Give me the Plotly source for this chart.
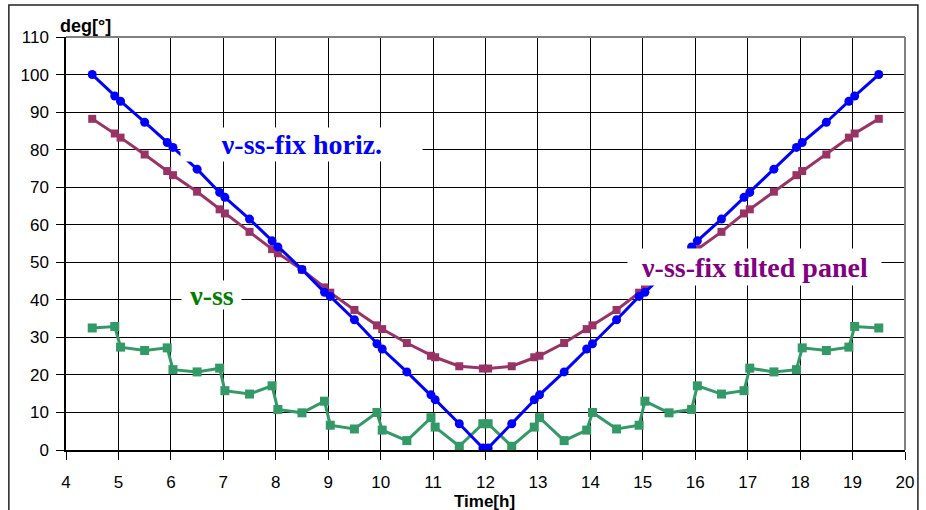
import plotly.graph_objects as go

time_h = [4.5, 4.93, 5.04, 5.5, 5.93, 6.04, 6.5, 6.93, 7.03, 7.5, 7.93, 8.04, 8.5, 8.93, 9.04,
          9.5, 9.93, 10.03, 10.5, 10.96, 11.04, 11.5, 11.95, 12.05, 12.5, 12.93, 13.03, 13.5,
          13.93, 14.04, 14.5, 14.93, 15.04, 15.5, 15.93, 16.04, 16.5, 16.93, 17.04, 17.5,
          17.93, 18.04, 18.5, 18.93, 19.04, 19.5]

fix_horiz = [100, 94.3, 92.9, 87.3, 81.9, 80.6, 74.8, 68.6, 67.3, 61.5, 55.7, 54.1, 48.1, 42.0, 40.9,
             34.7, 28.3, 26.9, 20.8, 14.7, 13.4, 7.0, 0.5, 0.5, 7.0, 13.4, 14.7, 20.8,
             26.9, 28.3, 34.7, 40.9, 42.0, 48.1, 54.1, 55.7, 61.5, 67.3, 68.6, 74.8,
             80.6, 81.9, 87.3, 92.9, 94.3, 100]

fix_tilted = [88.2, 84.3, 83.2, 78.7, 74.3, 73.2, 68.8, 64.1, 63.0, 58.1, 53.5, 52.4, 48.0, 43.3, 41.9,
              37.3, 33.2, 32.2, 28.5, 25.1, 24.7, 22.3, 21.7, 21.7, 22.3, 24.7, 25.1, 28.5,
              32.2, 33.2, 37.3, 41.9, 43.3, 48.0, 52.4, 53.5, 58.1, 63.0, 64.1, 68.8,
              73.2, 74.3, 78.7, 83.2, 84.3, 88.2]

ss = [32.5, 32.9, 27.4, 26.5, 27.2, 21.4, 20.8, 21.8, 15.8, 14.9, 17.1, 10.8, 9.9, 13.0, 6.6,
      5.6, 10.0, 5.3, 2.5, 8.6, 6.1, 1.0, 7.0, 7.0, 1.0, 6.1, 8.6, 2.5,
      5.3, 10.0, 5.6, 6.6, 13.0, 9.9, 10.8, 17.1, 14.9, 15.8, 21.8, 20.8,
      21.4, 27.2, 26.5, 27.4, 32.9, 32.5]

x_ticks = list(range(4, 21))
y_ticks = list(range(0, 111, 10))

fig = go.Figure()
fig.add_trace(go.Scatter(x=time_h, y=ss, mode="lines+markers", name="ν-ss",
                         line=dict(color="#339966", width=3),
                         marker=dict(symbol="square", size=9, color="#339966")))
fig.add_trace(go.Scatter(x=time_h, y=fix_tilted, mode="lines+markers", name="ν-ss-fix tilted panel",
                         line=dict(color="#993366", width=3),
                         marker=dict(symbol="square", size=8, color="#993366")))
fig.add_trace(go.Scatter(x=time_h, y=fix_horiz, mode="lines+markers", name="ν-ss-fix horiz.",
                         line=dict(color="#0000FF", width=3),
                         marker=dict(symbol="circle", size=9, color="#0000FF")))

tick_font = dict(family="Liberation Sans, Arial", size=17, color="black")
fig.update_layout(
    width=926, height=510,
    margin=dict(l=66, r=16, t=37, b=60),
    paper_bgcolor="white", plot_bgcolor="white",
    showlegend=False,
    xaxis=dict(range=[4, 20], tickvals=x_ticks, ticktext=[str(v) for v in x_ticks],
               showgrid=True, gridcolor="black", gridwidth=1,
               ticks="outside", ticklen=8, tickcolor="black", tickwidth=1,
               showline=True, linecolor="black", linewidth=1.5,
               zeroline=False, tickfont=tick_font, ticklabelstandoff=8),
    yaxis=dict(range=[0, 110], tickvals=y_ticks, ticktext=[str(v) for v in y_ticks],
               showgrid=True, gridcolor="black", gridwidth=1,
               ticks="outside", ticklen=8, tickcolor="black", tickwidth=1,
               showline=True, linecolor="black", linewidth=1.5,
               zeroline=False, tickfont=tick_font, ticklabelstandoff=4),
)

# plot-area border (top/right grey) and outer chart border
fig.add_shape(type="line", xref="paper", yref="paper", x0=0, x1=1, y0=1, y1=1,
              line=dict(color="#808080", width=2), layer="above")
fig.add_shape(type="line", xref="paper", yref="paper", x0=1, x1=1, y0=0, y1=1,
              line=dict(color="#808080", width=2), layer="above")
fig.add_shape(type="rect", xref="paper", yref="paper", x0=-0.0681, x1=1.0154, y0=-0.16, y1=1.0775,
              line=dict(color="#222222", width=1.5), layer="above")

label_font = "Liberation Serif, Times New Roman, serif"
fig.add_annotation(xref="paper", yref="paper", x=0.2801, y=0.7397, xanchor="center", yanchor="middle",
                   text="<b>ν-ss-fix horiz.</b>",
                   showarrow=False, font=dict(family=label_font, size=28, color="#0000FF", weight="bold"),
                   bgcolor="white", width=241, height=33, borderpad=0, align="center")
fig.add_annotation(xref="paper", yref="paper", x=0.8204, y=0.4431, xanchor="center", yanchor="middle",
                   text="<b>ν-ss-fix tilted panel</b>",
                   showarrow=False, font=dict(family=label_font, size=28, color="#800080", weight="bold"),
                   bgcolor="white", width=253, height=36, borderpad=0, align="center")
fig.add_annotation(xref="paper", yref="paper", x=0.1732, y=0.3753, xanchor="center", yanchor="middle",
                   text="<b>ν-ss</b>",
                   showarrow=False, font=dict(family=label_font, size=28, color="#008000", weight="bold"),
                   bgcolor="white", width=59, height=28, borderpad=0, align="center")

fig.add_annotation(xref="paper", yref="paper", x=-0.0095, y=1.027, xanchor="left", yanchor="middle",
                   text="<b>deg[°]</b>", showarrow=False,
                   font=dict(family="Liberation Sans, Arial", size=18, color="black"))
fig.add_annotation(xref="paper", yref="paper", x=0.499, y=-0.125, xanchor="center", yanchor="middle",
                   text="<b>Time[h]</b>", showarrow=False,
                   font=dict(family="Liberation Sans, Arial", size=17, color="black"))

fig.write_html("out.html")
